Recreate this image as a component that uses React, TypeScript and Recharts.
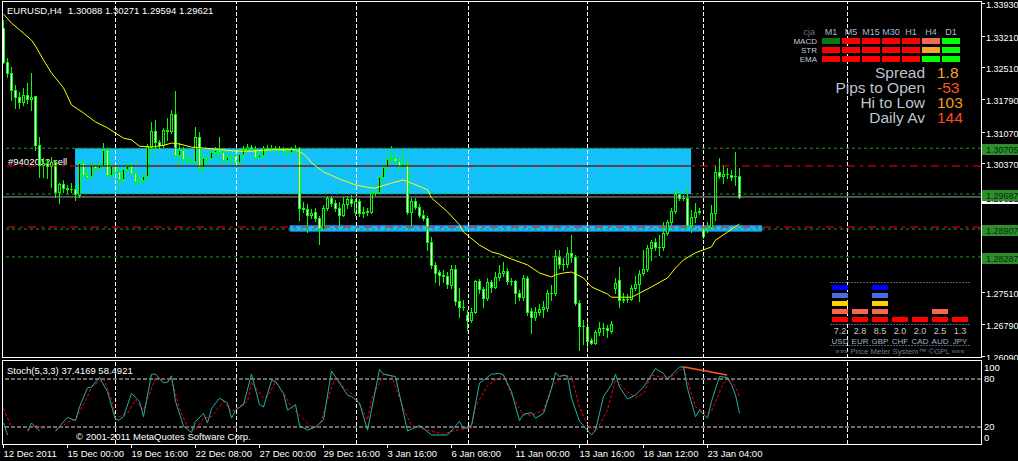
import { Bar, BarChart, ComposedChart, Line, ReferenceArea, ReferenceLine, XAxis, YAxis } from 'recharts'

const FONT = '"Liberation Sans", Arial, sans-serif'

// EURUSD H4, 12 Dec 2011 - 23 Jan 2012, one value per bar
const opens = [
  1.3338, 1.3262, 1.3238, 1.32, 1.3185, 1.3173, 1.3189, 1.318, 1.3187, 1.3077,
  1.3033, 1.3038, 1.3031, 1.304, 1.2973, 1.2991, 1.2982, 1.298, 1.298, 1.2967,
  1.3038, 1.3011, 1.3009, 1.3033, 1.3027, 1.3033, 1.3067, 1.3011, 1.3031, 1.3018,
  1.3002, 1.3025, 1.3031, 1.3016, 1.2998, 1.3, 1.3009, 1.3075, 1.3109, 1.3084,
  1.3077, 1.3111, 1.3109, 1.3147, 1.3055, 1.3067, 1.3046, 1.3044, 1.3042, 1.3096,
  1.3029, 1.3049, 1.3049, 1.3062, 1.3067, 1.3062, 1.3044, 1.3051, 1.3053, 1.304,
  1.3058, 1.3068, 1.3073, 1.3068, 1.3051, 1.3055, 1.3071, 1.3068, 1.3071, 1.3068,
  1.3068, 1.3064, 1.3062, 1.3068, 1.3071, 1.2938, 1.2935, 1.2922, 1.2929, 1.2915,
  1.2891, 1.2938, 1.296, 1.2949, 1.2938, 1.2922, 1.2947, 1.2958, 1.2929, 1.2953,
  1.2927, 1.2929, 1.2929, 1.2971, 1.2973, 1.3007, 1.3029, 1.3046, 1.3049, 1.3042,
  1.3031, 1.3035, 1.2929, 1.2953, 1.294, 1.2922, 1.2915, 1.2862, 1.2811, 1.2795,
  1.2789, 1.2786, 1.2766, 1.2802, 1.273, 1.2717, 1.27, 1.2688, 1.2706, 1.2775,
  1.2757, 1.2737, 1.2773, 1.2762, 1.2784, 1.2793, 1.2797, 1.2775, 1.2775, 1.2748,
  1.2739, 1.2782, 1.2708, 1.2695, 1.2706, 1.2713, 1.2715, 1.2748, 1.2748, 1.2831,
  1.2813, 1.2813, 1.2838, 1.2829, 1.2726, 1.2675, 1.2673, 1.2643, 1.2638, 1.2662,
  1.267, 1.267, 1.2664, 1.276, 1.2777, 1.2733, 1.2735, 1.2735, 1.276, 1.2768,
  1.2793, 1.2802, 1.2849, 1.2862, 1.2851, 1.2851, 1.2882, 1.2906, 1.2931, 1.2969,
  1.296, 1.296, 1.29, 1.2918, 1.2929, 1.2893, 1.2893, 1.2895, 1.2927, 1.3018,
  1.3009, 1.3013, 1.3011, 1.3009, 1.30088,
]
const highs = [
  1.3356, 1.3271, 1.3251, 1.3211, 1.3196, 1.3205, 1.3216, 1.3238, 1.3187, 1.3096,
  1.3049, 1.3044, 1.3051, 1.3044, 1.2993, 1.3, 1.2989, 1.2993, 1.2987, 1.3044,
  1.3044, 1.3022, 1.304, 1.3038, 1.304, 1.3082, 1.3071, 1.304, 1.304, 1.3022,
  1.3033, 1.3038, 1.304, 1.302, 1.3007, 1.3013, 1.308, 1.3129, 1.3133, 1.3089,
  1.3116, 1.3138, 1.3156, 1.3198, 1.3082, 1.3073, 1.3051, 1.3051, 1.3118, 1.3107,
  1.3055, 1.3055, 1.3067, 1.3073, 1.3096, 1.3071, 1.3058, 1.3058, 1.3058, 1.3062,
  1.3075, 1.308, 1.3077, 1.3075, 1.306, 1.3075, 1.3077, 1.3077, 1.3075, 1.3075,
  1.3073, 1.3071, 1.3073, 1.3077, 1.3073, 1.2951, 1.2947, 1.2935, 1.2938, 1.292,
  1.2944, 1.2964, 1.2964, 1.2955, 1.2951, 1.2962, 1.2964, 1.2967, 1.2958, 1.2958,
  1.294, 1.2938, 1.2978, 1.2982, 1.3011, 1.3033, 1.3055, 1.3075, 1.306, 1.3049,
  1.3071, 1.3049, 1.296, 1.296, 1.2947, 1.2933, 1.292, 1.2873, 1.2817, 1.28,
  1.28, 1.2795, 1.2811, 1.2811, 1.276, 1.2733, 1.2711, 1.2715, 1.2777, 1.278,
  1.2762, 1.2782, 1.2777, 1.2795, 1.2811, 1.2817, 1.2804, 1.2782, 1.2777, 1.2755,
  1.2789, 1.2786, 1.2715, 1.2717, 1.2724, 1.273, 1.2755, 1.2766, 1.2844, 1.2844,
  1.2826, 1.2851, 1.2878, 1.2833, 1.2733, 1.2688, 1.2688, 1.2648, 1.2666, 1.2684,
  1.2682, 1.2677, 1.2686, 1.2782, 1.2806, 1.2748, 1.2746, 1.2766, 1.2786, 1.28,
  1.2844, 1.2855, 1.2866, 1.2871, 1.2878, 1.2906, 1.2911, 1.2938, 1.2978, 1.2978,
  1.2967, 1.2982, 1.2933, 1.2949, 1.2938, 1.29, 1.2906, 1.2944, 1.3033, 1.3049,
  1.3033, 1.3027, 1.3022, 1.3062, 1.30271,
]
const lows = [
  1.326, 1.3229, 1.3178, 1.316, 1.316, 1.3167, 1.3171, 1.3156, 1.3067, 1.3007,
  1.3007, 1.3005, 1.2985, 1.2962, 1.2949, 1.2973, 1.2971, 1.2973, 1.2955, 1.2962,
  1.3005, 1.3, 1.3005, 1.302, 1.3022, 1.3029, 1.3007, 1.3005, 1.3, 1.2982,
  1.2996, 1.3022, 1.3011, 1.2989, 1.2993, 1.2996, 1.3005, 1.3062, 1.3062, 1.3071,
  1.3073, 1.3089, 1.3104, 1.3051, 1.3029, 1.304, 1.3038, 1.304, 1.3038, 1.3018,
  1.3022, 1.304, 1.3044, 1.3055, 1.3044, 1.304, 1.3038, 1.304, 1.3033, 1.3035,
  1.3053, 1.3062, 1.3067, 1.3044, 1.3049, 1.3051, 1.3062, 1.3064, 1.3064, 1.3062,
  1.306, 1.3055, 1.3058, 1.3062, 1.2911, 1.2929, 1.2884, 1.2915, 1.2909, 1.2857,
  1.2889, 1.2933, 1.2942, 1.2931, 1.29, 1.292, 1.2938, 1.2942, 1.2922, 1.292,
  1.2918, 1.2922, 1.2927, 1.2967, 1.2971, 1.3005, 1.3027, 1.304, 1.3035, 1.3022,
  1.3027, 1.2924, 1.2898, 1.2935, 1.2918, 1.2911, 1.2844, 1.2804, 1.2773, 1.2766,
  1.2773, 1.276, 1.276, 1.2721, 1.2695, 1.2711, 1.2666, 1.2684, 1.2704, 1.2748,
  1.2717, 1.2733, 1.2751, 1.276, 1.2777, 1.2786, 1.2768, 1.2766, 1.2726, 1.2733,
  1.2733, 1.27, 1.2659, 1.2688, 1.27, 1.2695, 1.2708, 1.2733, 1.2744, 1.2804,
  1.28, 1.2806, 1.2817, 1.2721, 1.2622, 1.2636, 1.2622, 1.2634, 1.2634, 1.2655,
  1.2655, 1.265, 1.2659, 1.2748, 1.2717, 1.2728, 1.2728, 1.2733, 1.2755, 1.273,
  1.2789, 1.2797, 1.2822, 1.2844, 1.2833, 1.2844, 1.2878, 1.29, 1.2927, 1.2955,
  1.2955, 1.2895, 1.2884, 1.2906, 1.2924, 1.2871, 1.2884, 1.2891, 1.2911, 1.3005,
  1.2993, 1.3005, 1.3, 1.2989, 1.29594,
]
const closes = [
  1.3262, 1.3238, 1.32, 1.3185, 1.3173, 1.3189, 1.318, 1.3185, 1.3077, 1.3033,
  1.3038, 1.3031, 1.304, 1.2973, 1.2991, 1.2982, 1.298, 1.298, 1.2969, 1.3038,
  1.3011, 1.3007, 1.3033, 1.3027, 1.3033, 1.3067, 1.3011, 1.3031, 1.3018, 1.3002,
  1.3025, 1.3031, 1.3016, 1.2998, 1.3, 1.3009, 1.3075, 1.3109, 1.3084, 1.3077,
  1.3111, 1.3109, 1.3147, 1.3055, 1.3067, 1.3046, 1.3044, 1.3044, 1.3096, 1.3029,
  1.3049, 1.3049, 1.3062, 1.3067, 1.3062, 1.3044, 1.3051, 1.3051, 1.304, 1.3058,
  1.3068, 1.3073, 1.3071, 1.3051, 1.3055, 1.3071, 1.3068, 1.3071, 1.3068, 1.3068,
  1.3064, 1.3062, 1.3068, 1.3071, 1.2938, 1.2935, 1.2922, 1.2927, 1.2915, 1.2891,
  1.2938, 1.296, 1.2949, 1.2938, 1.2922, 1.2947, 1.2958, 1.2949, 1.2953, 1.2927,
  1.2929, 1.2931, 1.2971, 1.2973, 1.3007, 1.3029, 1.3046, 1.3049, 1.3042, 1.3031,
  1.3035, 1.2929, 1.2953, 1.294, 1.2922, 1.2915, 1.2862, 1.2811, 1.2793, 1.2789,
  1.2786, 1.2768, 1.2802, 1.273, 1.2717, 1.2717, 1.2688, 1.2706, 1.2775, 1.2757,
  1.2737, 1.2773, 1.2762, 1.2784, 1.2793, 1.2797, 1.2775, 1.2775, 1.2748, 1.2739,
  1.2782, 1.2706, 1.2695, 1.2706, 1.2713, 1.2717, 1.2748, 1.2748, 1.2831, 1.2813,
  1.2813, 1.2838, 1.2829, 1.2726, 1.2675, 1.2675, 1.2641, 1.2638, 1.2662, 1.267,
  1.267, 1.2666, 1.2679, 1.2771, 1.2733, 1.2735, 1.2735, 1.276, 1.2768, 1.2791,
  1.2802, 1.2849, 1.2862, 1.2851, 1.2851, 1.2882, 1.2906, 1.2931, 1.2969, 1.296,
  1.296, 1.29, 1.2918, 1.2929, 1.2931, 1.2875, 1.2895, 1.2927, 1.3018, 1.3009,
  1.3013, 1.3013, 1.3007, 1.3009, 1.29621,
]

// moving average (yellow), read at bar indices
const emaIdx = [
  0, 2, 4, 7, 8, 10, 12, 15, 17, 20, 23, 26, 28, 30, 32, 34, 37, 40, 42, 44,
  47, 50, 54, 58, 62, 67, 71, 73, 75, 76, 77, 80, 84, 88, 92, 93, 97, 100, 102, 106,
  107, 111, 114, 115, 119, 122, 124, 127, 131, 134, 137, 138, 140, 142, 145, 147, 151, 152, 157, 159,
  162, 166, 168, 170, 173, 177, 178, 181, 184,
]
const emaVal = [
  1.3369, 1.3349, 1.3334, 1.3311, 1.3298, 1.3267, 1.3238, 1.3205, 1.3167, 1.3149,
  1.3129, 1.3116, 1.3104, 1.3093, 1.3089, 1.3075, 1.3073, 1.3077, 1.3082, 1.308,
  1.3073, 1.3071, 1.3068, 1.3064, 1.3064, 1.3067, 1.3068, 1.3067, 1.3058, 1.3049,
  1.3038, 1.3018, 1.3002, 1.2989, 1.2982, 1.2982, 1.2993, 1.3, 1.2993, 1.2978,
  1.296, 1.2929, 1.29, 1.2884, 1.2855, 1.284, 1.2835, 1.2824, 1.2811, 1.2793,
  1.2784, 1.2789, 1.2793, 1.2795, 1.2782, 1.2762, 1.2746, 1.2739, 1.2739, 1.2748,
  1.2762, 1.2782, 1.2804, 1.2822, 1.2838, 1.2851, 1.2866, 1.2884, 1.2902,
]

// Stoch(5,3,3): main and signal, null where the line is not visible
const stochMainIdx = [
  0, 1, 3, 6, 7, 9, 11, 13, 16, 18, 19, 21, 22, 24, 26, 28, 29, 30, 32, 34,
  35, 37, 38, 40, 41, 42, 43, 45, 47, 48, 50, 51, 52, 54, 56, 57, 58, 60, 62, 64,
  65, 67, 68, 70, 71, 73, 74, 76, 78, 80, 82, 84, 86, 87, 89, 91, 94, 95, 98, 101,
  104, 107, 111, 114, 115, 117, 119, 122, 124, 125, 127, 129, 130, 132, 133, 135, 137, 138, 139, 140,
  141, 142, 144, 146, 147, 148, 150, 152, 153, 154, 156, 158, 160, 163, 165, 166, 167, 169, 170, 171,
  173, 174, 176, 177, 179, 181, 182, 183, 184,
]
const stochMainVal = [
  25, 10, null, 15, 25, 15, null, 15, 32, 28, 45, 69, 70, 82, 64, 29, 29, 33, 62, 52,
  33, 86, 86, 75, 76, 84, 52, 21, 13, 27, 37, 25, 43, 56, 50, 31, 41, 48, 86, 48,
  45, 78, 77, 62, 41, 48, 22, 16, 20, 29, 90, 75, 60, 58, 50, 16, 92, 86, 83, 15,
  22, 10, 10, 27, 18, 22, 75, 86, 87, 85, 64, 28, 36, 38, 31, 37, 68, 88, 83, 85,
  83, 56, 27, 16, 10, 16, 58, 73, 86, 70, 55, 60, 70, 93, 87, 79, 85, 95, 95, 68,
  33, 41, 31, 52, 83, 82, 73, 60, 37.42,
]
const stochSigIdx = [
  0, 2, 4, 6, 8, 10, 12, 13, 17, 18, 21, 22, 25, 27, 28, 31, 33, 35, 38, 40,
  42, 44, 46, 48, 50, 52, 55, 57, 58, 61, 62, 65, 66, 68, 70, 72, 74, 77, 79, 81,
  83, 85, 88, 91, 92, 95, 97, 100, 102, 106, 110, 113, 117, 118, 121, 124, 125, 127, 130, 132,
  135, 137, 140, 142, 144, 146, 148, 151, 153, 156, 158, 160, 162, 165, 167, 170, 173, 176, 177, 180,
  182, 184,
]
const stochSigVal = [
  43, 20, null, 15, 22, 18, null, 15, 29, 29, 58, 70, 81, 54, 31, 37, 54, 41, 82, 79,
  80, 43, 20, 16, 31, 33, 52, 39, 43, 52, 76, 56, 58, 77, 62, 45, 35, 20, 20, 54,
  83, 70, 58, 29, 54, 86, 84, 43, 22, 16, 11, 16, 19, 45, 72, 82, 85, 60, 35, 35,
  41, 70, 85, 83, 45, 23, 14, 41, 79, 64, 57, 62, 85, 82, 83, 94, 45, 36, 40, 75,
  80, 58.49,
]
const divergenceIdx = [169.8, 180.9]
const divergenceVal = [95.4, 85]

const timeTickIdx = [0, 16, 32, 48, 64, 80, 96, 112, 128, 144, 160, 176]
const timeLabels = [
  '12 Dec 2011', '15 Dec 00:00', '19 Dec 16:00', '22 Dec 08:00', '27 Dec 00:00', '29 Dec 16:00',
  '3 Jan 16:00', '6 Jan 08:00', '11 Jan 00:00', '13 Jan 16:00', '18 Jan 12:00', '23 Jan 04:00',
]
const gridIdx = [28, 58.25, 88.25, 116.25, 146, 175, 211]
const priceTicks = [1.3393, 1.3321, 1.3251, 1.3179, 1.3107, 1.3037, 1.2751, 1.2679, 1.2609]
const stochTicks = [0, 20, 80, 100]

const orderLevels = [1.30705, 1.29687, 1.28907, 1.28287]
const bidPrice = 1.29621
const sellLines = [1.3031, 1.2895]
const zoneX = [17.9, 171.9]
const zoneY = [1.29687, 1.30705]
const bandX = [71.6, 189.6]
const bandY = [1.2886, 1.2898]

// signal table (top right)
const tfLabels = ['M1', 'M5', 'M15', 'M30', 'H1', 'H4', 'D1']
const macdRow = ['upWeak', 'down', 'down', 'down', 'down', 'downWeak', 'up']
const strRow = ['down', 'down', 'down', 'down', 'down', 'flat', 'up']
const emaRow = ['down', 'down', 'down', 'down', 'down', 'up', 'up']
const rowNames = ['MACD', 'STR', 'EMA']
const stateColor: Record<string, string> = {
  up: '#00ff00',
  down: '#ff0000',
  upWeak: '#0b7a0b',
  downWeak: '#f26a58',
  flat: '#f5a62a',
}

const infoLabels = ['Spread', 'Pips to Open', 'Hi to Low', 'Daily Av']
const infoValues = ['1.8', '-53', '103', '144']
const infoColors = ['#f7a22a', '#ff5522', '#f99a18', '#ff4a1c']

// price meter
const meterCurrencies = ['USD', 'EUR', 'GBP', 'CHF', 'CAD', 'AUD', 'JPY']
const meterValues = ['7.2', '2.8', '8.5', '2.0', '2.0', '2.5', '1.3']
const meterBlocks = [5, 2, 5, 1, 1, 2, 1]
const meterColors = ['#ff0000', '#f8664c', '#ffd000', '#4a6ee0', '#0000ff']

const bars = opens.map((o, i) => ({
  i,
  o,
  h: highs[i],
  l: lows[i],
  c: closes[i],
  range: [lows[i], highs[i]],
}))
const emaRows = emaIdx.map((i, k) => ({ i, v: emaVal[k] }))
const mainRows = stochMainIdx.map((i, k) => ({ i, v: stochMainVal[k] }))
const sigRows = stochSigIdx.map((i, k) => ({ i, v: stochSigVal[k] }))
const meterRows = meterCurrencies.map((cur, k) => {
  const row: Record<string, string | number> = { cur }
  for (let r = 1; r <= 5; r++) row['b' + r] = meterBlocks[k] >= r ? 1 : 0
  return row
})

const X_DOMAIN: [number, number] = [-0.375, 244.375]

function Candle(props: any) {
  const { x, y, width, height, payload } = props
  if (!payload) return <g />
  let top = y
  let h = height
  if (h < 0) {
    top = y + h
    h = -h
  }
  const cx = Math.floor(x + width / 2) + 0.5
  const k = payload.h === payload.l ? 0 : h / (payload.h - payload.l)
  const yo = top + (payload.h - payload.o) * k
  const yc = top + (payload.h - payload.c) * k
  const bTop = Math.round(Math.min(yo, yc))
  const bBot = Math.round(Math.max(yo, yc))
  const bull = payload.c >= payload.o
  return (
    <g shapeRendering="crispEdges">
      <line x1={cx} x2={cx} y1={Math.round(top)} y2={Math.round(top + h) + 1} stroke="#00ff00" />
      {bBot - bTop >= 1 ? (
        <rect x={cx - 1} y={bTop + 0.5} width={2} height={bBot - bTop} fill={bull ? '#000' : '#fff'} stroke="#00ff00" />
      ) : (
        <line x1={cx - 1.5} x2={cx + 1.5} y1={bTop + 0.5} y2={bTop + 0.5} stroke="#00ff00" />
      )}
    </g>
  )
}

function PriceTick({ x, y, payload }: any) {
  const py = Math.round(y) + 0.5
  return (
    <g>
      <line x1={x} x2={x + 4} y1={py} y2={py} stroke="#fff" shapeRendering="crispEdges" />
      <text x={x + 5} y={y + 5} fill="#fff" fontSize={9} fontFamily={FONT}>
        {Number(payload.value).toFixed(5)}
      </text>
    </g>
  )
}

function LevelTag(props: any) {
  const { viewBox, text, bg, fg } = props
  if (!viewBox) return null
  const y = Math.round(viewBox.y)
  const x = viewBox.x + viewBox.width + 1
  return (
    <g>
      <rect x={x} y={y - 4} width={36} height={11} fill={bg} />
      <text x={x + 4} y={y + 5} fill={fg} fontSize={9} fontFamily={FONT}>
        {text}
      </text>
    </g>
  )
}

function TimeTick({ x, y, payload }: any) {
  const k = timeTickIdx.indexOf(payload.value)
  const px = Math.floor(x) + 0.5
  return (
    <g>
      <line x1={px} x2={px} y1={y} y2={y + 4} stroke="#fff" shapeRendering="crispEdges" />
      <text x={x} y={y + 13} fill="#fff" fontSize={9.5} fontFamily={FONT}>
        {timeLabels[k]}
      </text>
    </g>
  )
}

// labels of the stoch scale stay inside the panel (chart-local coordinates)
function StochTick({ x, y, payload }: any) {
  const cy = Math.min(Math.max(y - 1, 9), 79)
  return (
    <text x={x + 3} y={cy + 3.5} fill="#fff" fontSize={9.5} fontFamily={FONT}>
      {payload.value}
    </text>
  )
}

function MeterCell(props: any) {
  const { x, y, width, height, fill } = props
  if (!height || height <= 0) return <g />
  return <rect x={x} y={y} width={width} height={5} fill={fill} />
}

export default function App() {
  return (
    <div style={{ position: 'absolute', left: 0, top: 0, width: 1018, height: 461, background: '#000', overflow: 'hidden', fontFamily: FONT }}>
      <svg width={1018} height={461} style={{ position: 'absolute', left: 0, top: 0 }}>
        <text x={8} y={165} fill="#fff" fontSize={9.5} fontFamily={FONT}>#9402012 sell</text>
      </svg>

      <div style={{ position: 'absolute', left: 0, top: 0 }}>
        <ComposedChart width={1018} height={360} data={bars} margin={{ top: 1, right: 0, bottom: 2, left: 2 }}>
          <XAxis type="number" dataKey="i" domain={X_DOMAIN} hide allowDataOverflow />
          <YAxis
            orientation="right"
            width={37}
            domain={[1.26038, 1.33981]}
            ticks={priceTicks}
            tick={<PriceTick />}
            axisLine={false}
            tickLine={false}
            tickSize={0}
            tickMargin={0}
            interval={0}
            allowDataOverflow
          />
          <ReferenceArea x1={zoneX[0]} x2={zoneX[1]} y1={zoneY[0]} y2={zoneY[1]} fill="#12c2f8" fillOpacity={1} stroke="none" />
          <ReferenceArea x1={bandX[0]} x2={bandX[1]} y1={bandY[0]} y2={bandY[1]} fill="#12c2f8" fillOpacity={1} stroke="#1e80ff" />
          {gridIdx.map((g) => (
            <ReferenceLine key={'g' + g} x={g} stroke="#fff" strokeDasharray="4 2" />
          ))}
          <ReferenceLine
            segment={[{ x: zoneX[0], y: sellLines[0] }, { x: zoneX[1], y: sellLines[0] }]}
            stroke="#000"
          />
          {sellLines.map((p) => (
            <ReferenceLine key={'s' + p} y={p} stroke="#ff0000" strokeDasharray="8 5 3 5" />
          ))}
          <ReferenceLine y={bidPrice} stroke="#9aa0a8" label={<LevelTag text="1.29621" bg="#ffffff" fg="#000" />} />
          {orderLevels.map((p) => (
            <ReferenceLine
              key={'o' + p}
              y={p}
              stroke="#1f9a1f"
              strokeDasharray="3 3"
              label={<LevelTag text={p.toFixed(5)} bg="#2c8f2c" fg="#0b2a0b" />}
            />
          ))}
          <Bar dataKey="range" barSize={3} shape={<Candle />} isAnimationActive={false} />
          <Line data={emaRows} dataKey="v" stroke="#ffff00" strokeWidth={1} dot={false} isAnimationActive={false} />
        </ComposedChart>
      </div>

      <div style={{ position: 'absolute', left: 0, top: 358 }}>
        <ComposedChart width={1018} height={103} margin={{ top: 2, right: 0, bottom: 0, left: 2 }}>
          <XAxis
            type="number"
            dataKey="i"
            domain={X_DOMAIN}
            ticks={timeTickIdx}
            tick={<TimeTick />}
            height={17}
            axisLine={false}
            tickLine={false}
            tickSize={0}
            tickMargin={0}
            interval={0}
            allowDataOverflow
          />
          <YAxis
            orientation="right"
            width={37}
            domain={[-1.25, 103.75]}
            ticks={stochTicks}
            tick={<StochTick />}
            axisLine={false}
            tickLine={false}
            tickSize={0}
            tickMargin={0}
            interval={0}
            allowDataOverflow
          />
          {gridIdx.map((g) => (
            <ReferenceLine key={'sg' + g} x={g} stroke="#fff" strokeDasharray="4 2" />
          ))}
          <ReferenceLine y={80} stroke="#d8d8d8" strokeDasharray="4 2" />
          <ReferenceLine y={20} stroke="#d8d8d8" strokeDasharray="4 2" />
          <ReferenceLine
            segment={[{ x: divergenceIdx[0], y: divergenceVal[0] }, { x: divergenceIdx[1], y: divergenceVal[1] }]}
            stroke="#ff5a1e"
            strokeWidth={1.5}
          />
          <Line data={sigRows} dataKey="v" stroke="#ff0000" strokeDasharray="3 2" dot={false} isAnimationActive={false} />
          <Line data={mainRows} dataKey="v" stroke="#20b2aa" dot={false} isAnimationActive={false} />
        </ComposedChart>
      </div>

      <div style={{ position: 'absolute', left: 830, top: 285 }}>
        <BarChart width={140} height={40} data={meterRows} margin={{ top: 0, right: 0, bottom: 0, left: 0 }}>
          <XAxis dataKey="cur" hide />
          <YAxis hide domain={[0, 5]} />
          {meterColors.map((col, r) => (
            <Bar key={col} dataKey={'b' + (r + 1)} stackId="m" barSize={16} fill={col} shape={<MeterCell />} isAnimationActive={false} />
          ))}
        </BarChart>
      </div>

      <div style={{ position: 'absolute', left: 2, top: 1, width: 980, height: 357, border: '1px solid #fff', boxSizing: 'border-box' }} />
      <div style={{ position: 'absolute', left: 2, top: 360, width: 980, height: 85, border: '1px solid #fff', boxSizing: 'border-box' }} />

      <svg width={1018} height={461} style={{ position: 'absolute', left: 0, top: 0, pointerEvents: 'none' }} fontFamily={FONT}>
        <text x={7} y={14} fill="#fff" fontSize={9.5}>EURUSD,H4</text>
        <text x={68} y={14} fill="#fff" fontSize={9.5}>1.30088 1.30271 1.29594 1.29621</text>

        <text x={815} y={35} fill="#707070" fontSize={9} textAnchor="end">cja</text>
        {tfLabels.map((t, k) => (
          <text key={t} x={831 + 20 * k} y={35} fill="#a8b8d0" fontSize={9} textAnchor="middle">{t}</text>
        ))}
        {[macdRow, strRow, emaRow].map((row, r) => (
          <g key={rowNames[r]}>
            <text x={817} y={44 + 9 * r} fill="#c4cad8" fontSize={8} textAnchor="end">{rowNames[r]}</text>
            {row.map((s, k) => (
              <rect key={k} x={822 + 20 * k} y={38 + 9 * r} width={18} height={6} fill={stateColor[s]} />
            ))}
          </g>
        ))}

        {infoLabels.map((t, k) => (
          <g key={t}>
            <text x={925} y={77.5 + 15 * k} fill="#bcc4d0" fontSize={15.5} textAnchor="end">{t}</text>
            <text x={937} y={77.5 + 15 * k} fill={infoColors[k]} fontSize={15.5}>{infoValues[k]}</text>
          </g>
        ))}

        <line x1={830} x2={970} y1={282.5} y2={282.5} stroke="#50606e" strokeDasharray="2 1" />
        <line x1={830} x2={970} y1={324.5} y2={324.5} stroke="#50606e" strokeDasharray="2 1" />
        <line x1={830} x2={970} y1={345.5} y2={345.5} stroke="#50606e" strokeDasharray="2 1" />
        {meterCurrencies.map((c, k) => (
          <g key={c}>
            <text x={840 + 20 * k} y={334} fill="#c8c8c8" fontSize={9} textAnchor="middle">{meterValues[k]}</text>
            <text x={840 + 20 * k} y={344} fill="#9fb4d0" fontSize={8} textAnchor="middle">{c}</text>
          </g>
        ))}
        <text x={900} y={354} fill="#6a7a8c" fontSize={7.8} textAnchor="middle">»»» Price Meter System™ ©GPL «««</text>

        <text x={7} y={374} fill="#fff" fontSize={9.5}>Stoch(5,3,3) 37.4169 58.4921</text>
        <text x={76} y={440} fill="#fff" fontSize={9.5}>© 2001-2011 MetaQuotes Software Corp.</text>
      </svg>
    </div>
  )
}
